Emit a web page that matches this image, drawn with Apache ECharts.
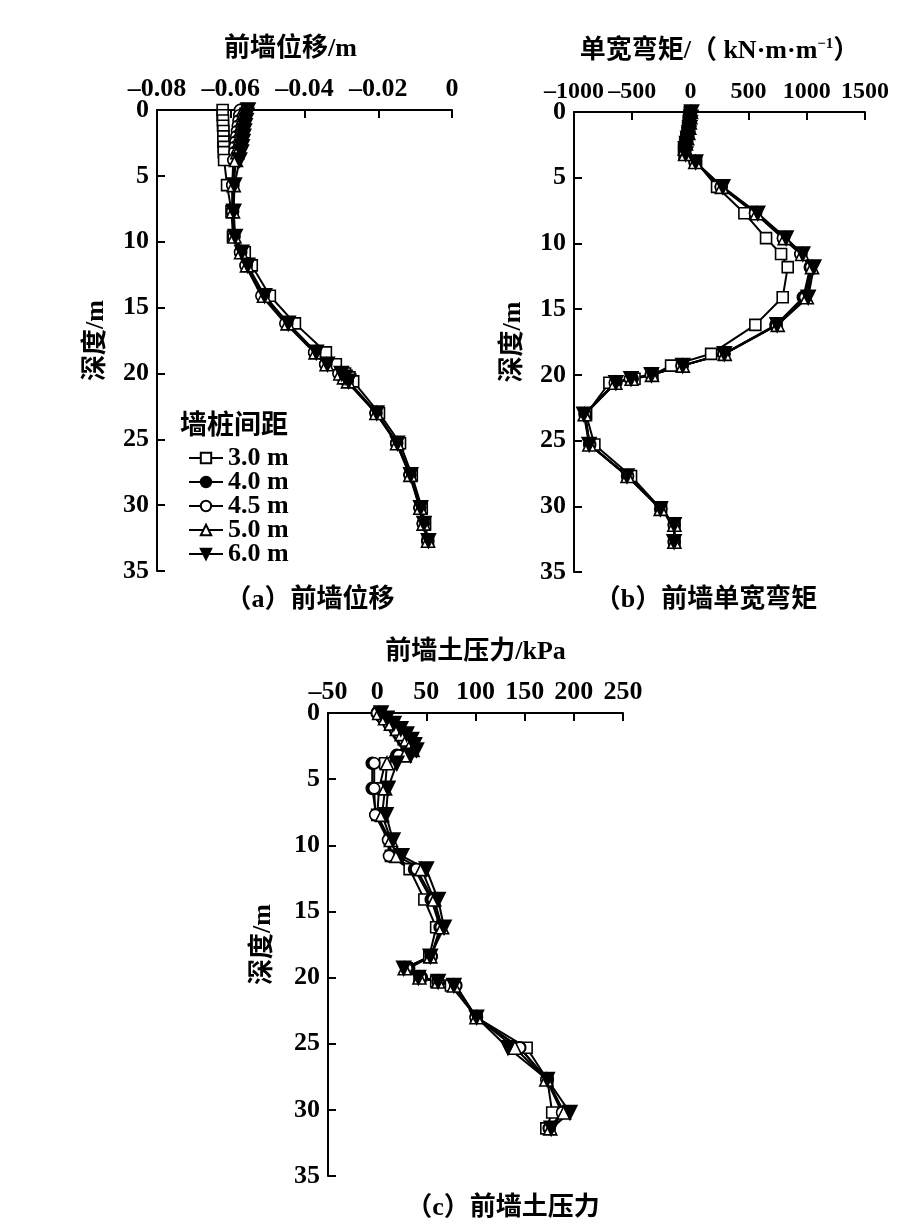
<!DOCTYPE html>
<html><head><meta charset="utf-8">
<script src="https://cdn.jsdelivr.net/npm/echarts@6/dist/echarts.min.js"></script>
<style>html,body{margin:0;padding:0;background:#fff}#c{width:917px;height:1226px}</style>
</head><body><div id="c"></div>
<script>
// depth (m) of each data point
const depth = [0,0.4,0.8,1.2,1.6,2.0,2.4,2.8,3.2,3.8,5.7,7.7,9.6,10.8,11.8,14.1,16.2,18.4,19.3,20.0,20.3,20.6,23.0,25.3,27.7,30.2,31.4,32.7];
const seriesNames = ['3.0 m','4.0 m','4.5 m','5.0 m','6.0 m'];

// (a) front wall displacement / m
const dispA30 = [-0.0622,-0.0622,-0.0621,-0.0621,-0.0620,-0.0620,-0.0620,-0.0619,-0.0619,-0.0618,-0.0610,-0.0598,-0.0594,-0.0562,-0.0543,-0.0494,-0.0426,-0.0342,-0.0315,-0.0290,-0.0278,-0.0268,-0.0198,-0.0141,-0.0109,-0.0082,-0.0073,-0.0065];
const dispA40 = [-0.0572,-0.0574,-0.0576,-0.0578,-0.0580,-0.0582,-0.0584,-0.0586,-0.0588,-0.0591,-0.0594,-0.0595,-0.0591,-0.0573,-0.0558,-0.0512,-0.0448,-0.0372,-0.0342,-0.0305,-0.0295,-0.0284,-0.0206,-0.0150,-0.0114,-0.0087,-0.0078,-0.0066];
const dispA45 = [-0.0575,-0.0577,-0.0579,-0.0581,-0.0583,-0.0585,-0.0587,-0.0589,-0.0590,-0.0593,-0.0596,-0.0596,-0.0592,-0.0575,-0.0560,-0.0517,-0.0452,-0.0374,-0.0344,-0.0308,-0.0297,-0.0286,-0.0207,-0.0151,-0.0115,-0.0088,-0.0079,-0.0066];
const dispA50 = [-0.0566,-0.0568,-0.0570,-0.0572,-0.0574,-0.0576,-0.0578,-0.0580,-0.0582,-0.0586,-0.0592,-0.0594,-0.0590,-0.0572,-0.0556,-0.0510,-0.0446,-0.0370,-0.0340,-0.0303,-0.0293,-0.0282,-0.0205,-0.0149,-0.0113,-0.0086,-0.0077,-0.0065];
const dispA60 = [-0.0553,-0.0556,-0.0558,-0.0561,-0.0563,-0.0565,-0.0567,-0.0569,-0.0571,-0.0576,-0.0590,-0.0592,-0.0588,-0.0570,-0.0554,-0.0508,-0.0444,-0.0368,-0.0338,-0.0300,-0.0290,-0.0280,-0.0204,-0.0148,-0.0112,-0.0085,-0.0076,-0.0064];

// (b) bending moment per unit width / (kN·m·m^-1)
const momB30 = [-5,-10,-15,-20,-25,-35,-45,-55,-50,49,229,464,650,779,836,793,558,178,-166,-326,-480,-696,-896,-825,-510,-252,-137,-137];
const momB40 = [0,-5,-10,-15,-20,-30,-40,-50,-45,40,265,560,800,950,1030,970,735,290,-70,-335,-500,-640,-905,-865,-540,-255,-140,-140];
const momB45 = [0,-5,-10,-15,-22,-32,-42,-52,-47,38,262,555,795,945,1035,985,740,285,-75,-340,-520,-650,-905,-865,-538,-253,-140,-140];
const momB50 = [5,0,-5,-10,-18,-28,-38,-48,-45,42,270,570,810,960,1045,1000,750,295,-65,-330,-505,-645,-908,-868,-540,-255,-138,-138];
const momB60 = [10,5,0,-5,-12,-22,-32,-42,-40,45,278,578,822,965,1060,1012,745,292,-66,-335,-510,-640,-915,-870,-545,-258,-140,-140];

// (c) front wall earth pressure / kPa (no point at the deepest level)
const presC30 = [2,8,14,20,24,27,30,32,28,8,2,0,13,14,33,48,60,53,30,43,60,75,101,152,173,178,172];
const presC40 = [0,6,12,18,22,26,30,32,20,-5,-5,-1,12,13,38,55,64,55,32,45,62,80,101,145,173,190,175];
const presC45 = [0,6,12,18,23,27,30,32,22,-3,-3,-2,11,12,40,57,65,55,30,44,62,80,100,145,172,188,175];
const presC50 = [2,8,14,20,25,30,34,36,28,10,8,5,14,20,45,58,66,54,28,43,62,78,101,140,172,190,176];
const presC60 = [4,10,17,24,30,35,38,40,34,20,11,9,16,25,50,62,68,54,27,42,62,78,101,133,173,196,177];

const xTicksA = {min:-0.08, max:0, interval:0.02};
const xTicksB = {min:-1000, max:1500, interval:500};
const xTicksC = {min:-50, max:250, interval:50};
const yTicks = {min:0, max:35, interval:5};

const FONT = "'Liberation Serif','Noto Sans CJK SC',serif";
const FS = 26;

const markers = [
  {symbol:'rect', fill:'#fff', rot:0, size:11},
  {symbol:'circle', fill:'#000', rot:0, size:12},
  {symbol:'circle', fill:'#fff', rot:0, size:11},
  {symbol:'triangle', fill:'#fff', rot:0, size:13},
  {symbol:'triangle', fill:'#000', rot:180, size:14}
];
const panels = [
  [dispA30,dispA40,dispA45,dispA50,dispA60],
  [momB30,momB40,momB45,momB50,momB60],
  [presC30,presC40,presC45,presC50,presC60]
];

function fmt(v){ return v < 0 ? '\u2013' + String(Math.abs(v)) : String(v); }

const series = [];
panels.forEach((arrs, p) => {
  arrs.forEach((vals, i) => {
    const m = markers[i];
    const data = [];
    vals.forEach((v, k) => { data.push([v, depth[k]]); });
    series.push({
      type:'line', name:seriesNames[i], xAxisIndex:p, yAxisIndex:p,
      data, symbol:m.symbol, symbolSize:m.size,
      symbolRotate:m.rot, showSymbol:true,
      lineStyle:{color:'#000', width:2},
      itemStyle:{color:m.fill, borderColor:'#000', borderWidth:1.6},
      emphasis:{disabled:true}, animation:false
    });
  });
});

function xAxis(idx, t, name, gap, nameStyleExtra, labelSize){
  return Object.assign({
    type:'value', gridIndex:idx, position:'top',
    name, nameLocation:'middle', nameGap:gap,
    nameTextStyle:Object.assign({fontFamily:FONT, fontSize:FS, fontWeight:'bold', color:'#000'}, nameStyleExtra||{}),
    axisLine:{show:true, onZero:false, lineStyle:{color:'#000', width:2}},
    axisTick:{show:true, inside:true, length:8, lineStyle:{color:'#000', width:2}},
    axisLabel:{fontFamily:FONT, fontSize:labelSize||FS, fontWeight:'bold', color:'#000', margin:8, formatter:fmt,
      showMinLabel:true, showMaxLabel:true, hideOverlap:false},
    splitLine:{show:false}
  }, t);
}
function yAxis(idx, gap){
  return Object.assign({
    type:'value', gridIndex:idx, inverse:true,
    name:'深度/m', nameLocation:'middle', nameGap:gap,
    nameTextStyle:{fontFamily:FONT, fontSize:FS, fontWeight:'bold', color:'#000'},
    axisLine:{show:true, onZero:false, lineStyle:{color:'#000', width:2}},
    axisTick:{show:true, inside:true, length:8, lineStyle:{color:'#000', width:2}},
    axisLabel:{fontFamily:FONT, fontSize:FS, fontWeight:'bold', color:'#000', margin:8,
      showMinLabel:true, showMaxLabel:true, hideOverlap:false},
    splitLine:{show:false}
  }, yTicks);
}

const option = {
  backgroundColor:'#fff',
  animation:false,
  grid:[
    {left:157, top:110, width:295, height:461},
    {left:574, top:112, width:291, height:460},
    {left:328, top:713, width:295, height:463}
  ],
  xAxis:[
    xAxis(0, xTicksA, '前墙位移/m', 48, {padding:[0,28,0,0]}),
    xAxis(1, xTicksB, '{n|单宽弯矩/（ kN·m·m}{s|\u22121}{n|）}', 48, {rich:{
      n:{fontFamily:FONT, fontSize:FS, fontWeight:'bold', color:'#000', verticalAlign:'bottom'},
      s:{fontFamily:FONT, fontSize:15, fontWeight:'bold', color:'#000', verticalAlign:'bottom', padding:[0,0,12,0]}
    }}, 24),
    xAxis(2, xTicksC, '前墙土压力/kPa', 48)
  ],
  yAxis:[ yAxis(0, 48), yAxis(1, 48), yAxis(2, 52) ],
  legend:{
    data:seriesNames, orient:'vertical', left:183, top:440,
    itemWidth:34, itemHeight:13, itemGap:-2,
    textStyle:{fontFamily:FONT, fontSize:FS, fontWeight:'bold', color:'#000'},
    selectedMode:false
  },
  graphic:[
    {type:'text', x:180, y:427, style:{text:'墙桩间距', fontFamily:FONT, fontSize:27, fontWeight:'bold', fill:'#000', textVerticalAlign:'middle'}},
    {type:'text', x:310, y:600, style:{text:'（a）前墙位移', fontFamily:FONT, fontSize:FS, fontWeight:'bold', fill:'#000', textAlign:'center', textVerticalAlign:'middle'}},
    {type:'text', x:706, y:600, style:{text:'（b）前墙单宽弯矩', fontFamily:FONT, fontSize:FS, fontWeight:'bold', fill:'#000', textAlign:'center', textVerticalAlign:'middle'}},
    {type:'text', x:503, y:1208, style:{text:'（c）前墙土压力', fontFamily:FONT, fontSize:FS, fontWeight:'bold', fill:'#000', textAlign:'center', textVerticalAlign:'middle'}}
  ],
  series
};
const chart = echarts.init(document.getElementById('c'), null, {renderer:'canvas'});
chart.setOption(option);
</script></body></html>
